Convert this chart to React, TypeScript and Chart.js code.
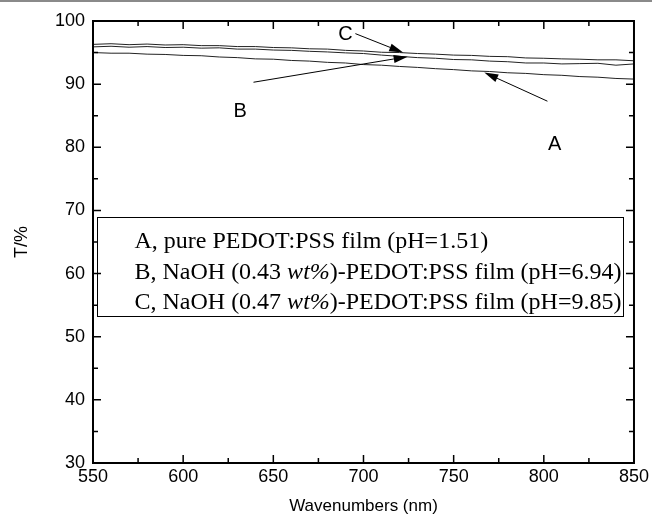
import React, { useEffect, useRef } from "react";
import { Chart, registerables } from "chart.js";

Chart.register(...registerables);

// ---- data ----
const wavelengths = [
  550, 560, 570, 580, 590, 600, 610, 620, 630, 640, 650, 660, 670, 680, 690, 700,
  710, 720, 730, 740, 750, 760, 770, 780, 790, 800, 810, 820, 830, 840, 850,
];
const seriesA = [
  95.0, 94.9, 94.9, 94.75, 94.7, 94.55, 94.5, 94.3, 94.2, 94.0, 93.95, 93.75, 93.65, 93.45, 93.35, 93.1,
  93.0, 92.8, 92.65, 92.45, 92.3, 92.1, 92.0, 91.8, 91.7, 91.5, 91.4, 91.2, 91.1, 90.9, 90.8,
];
const seriesB = [
  95.9, 96.0, 95.85, 95.95, 95.8, 95.85, 95.7, 95.75, 95.55, 95.55, 95.4, 95.35, 95.2, 95.1, 94.95, 94.85,
  94.6, 94.4, 94.2, 94.1, 93.9, 93.85, 93.65, 93.55, 93.35, 93.35, 93.2, 93.25, 93.3, 93.0, 93.2,
];
const seriesC = [
  96.3, 96.4, 96.25, 96.35, 96.2, 96.25, 96.1, 96.1, 95.95, 95.95, 95.8, 95.75, 95.6, 95.55, 95.35, 95.25,
  95.05, 95.0, 94.85, 94.75, 94.6, 94.55, 94.4, 94.35, 94.15, 94.1, 94.0, 93.95, 93.85, 93.85, 93.7,
];
const xTickValues = [550, 600, 650, 700, 750, 800, 850];
const yTickValues = [30, 40, 50, 60, 70, 80, 90, 100];
const xTitle = "Wavenumbers (nm)";
const yTitle = "T/%";
const legendLines: [string, boolean][][] = [
  [["A, pure PEDOT:PSS film (pH=1.51)", false]],
  [["B, NaOH (0.43 ", false], ["wt%", true], [")-PEDOT:PSS film (pH=6.94)", false]],
  [["C, NaOH (0.47 ", false], ["wt%", true], [")-PEDOT:PSS film (pH=9.85)", false]],
];
// curve labels with arrows (data coordinates)
const curveLabels = ["A", "B", "C"];
const labelAt = [
  [806, 80.4],
  [631.6, 85.7],
  [690, 97.9],
];
const arrowFrom = [
  [802, 87.3],
  [639, 90.3],
  [695.5, 98.0],
];
const arrowTo = [
  [767, 91.85],
  [724.5, 94.35],
  [722, 95.0],
];

const SANS = "'Liberation Sans', Arial, Helvetica, sans-serif";
const SERIF = "'Liberation Serif', 'Times New Roman', serif";

function drawArrow(ctx: CanvasRenderingContext2D, x1: number, y1: number, x2: number, y2: number) {
  const ang = Math.atan2(y2 - y1, x2 - x1);
  const headLen = 14;
  const headW = 4;
  const bx = x2 - headLen * Math.cos(ang);
  const by = y2 - headLen * Math.sin(ang);
  ctx.beginPath();
  ctx.moveTo(x1, y1);
  ctx.lineTo(bx, by);
  ctx.lineWidth = 1;
  ctx.strokeStyle = "#000";
  ctx.stroke();
  ctx.beginPath();
  ctx.moveTo(x2, y2);
  ctx.lineTo(bx + headW * Math.sin(ang), by - headW * Math.cos(ang));
  ctx.lineTo(bx - headW * Math.sin(ang), by + headW * Math.cos(ang));
  ctx.closePath();
  ctx.fillStyle = "#000";
  ctx.fill();
}

const decorPlugin = {
  id: "decor",
  afterDraw(chart: any) {
    const ctx: CanvasRenderingContext2D = chart.ctx;
    const { left, right, top, bottom } = chart.chartArea;
    const xs = chart.scales.x;
    const ys = chart.scales.y;
    ctx.save();

    // frame
    ctx.strokeStyle = "#000";
    ctx.lineWidth = 2;
    ctx.strokeRect(left, top, right - left, bottom - top);

    // inward ticks on all sides
    ctx.lineWidth = 1.5;
    ctx.beginPath();
    for (let v = 550; v <= 850; v += 25) {
      const px = xs.getPixelForValue(v);
      const len = v % 50 === 0 ? 8 : 5;
      ctx.moveTo(px, bottom);
      ctx.lineTo(px, bottom - len);
      ctx.moveTo(px, top);
      ctx.lineTo(px, top + len);
    }
    for (let v = 30; v <= 100; v += 5) {
      const py = ys.getPixelForValue(v);
      const len = v % 10 === 0 ? 8 : 5;
      ctx.moveTo(left, py);
      ctx.lineTo(left + len, py);
      ctx.moveTo(right, py);
      ctx.lineTo(right - len, py);
    }
    ctx.stroke();

    // curve labels and arrows
    ctx.fillStyle = "#000";
    ctx.font = `20px ${SANS}`;
    ctx.textAlign = "center";
    ctx.textBaseline = "middle";
    curveLabels.forEach((lab, i) => {
      ctx.fillText(lab, xs.getPixelForValue(labelAt[i][0]), ys.getPixelForValue(labelAt[i][1]));
      drawArrow(
        ctx,
        xs.getPixelForValue(arrowFrom[i][0]),
        ys.getPixelForValue(arrowFrom[i][1]),
        xs.getPixelForValue(arrowTo[i][0]),
        ys.getPixelForValue(arrowTo[i][1])
      );
    });

    // legend box
    const bx1 = xs.getPixelForValue(552.2);
    const bx2 = xs.getPixelForValue(844);
    const by1 = ys.getPixelForValue(69.0);
    const by2 = ys.getPixelForValue(53.4);
    ctx.lineWidth = 1;
    ctx.strokeRect(Math.round(bx1) + 0.5, Math.round(by1) + 0.5, Math.round(bx2 - bx1), Math.round(by2 - by1));
    const lineYs = [65.0, 60.2, 55.4];
    ctx.textAlign = "left";
    ctx.textBaseline = "middle";
    legendLines.forEach((segs, i) => {
      let x = xs.getPixelForValue(573);
      const y = ys.getPixelForValue(lineYs[i]);
      segs.forEach(([t, it]) => {
        ctx.font = `${it ? "italic " : ""}24px ${SERIF}`;
        ctx.fillText(t, x, y);
        x += ctx.measureText(t).width;
      });
    });

    // axis titles
    ctx.font = `17px ${SANS}`;
    ctx.textAlign = "center";
    ctx.textBaseline = "middle";
    ctx.fillText(xTitle, (left + right) / 2, 506);
    ctx.font = `18px ${SANS}`;
    ctx.translate(22, (top + bottom) / 2);
    ctx.rotate(-Math.PI / 2);
    ctx.fillText(yTitle, 0, 0);
    ctx.restore();
  },
};

export default function App() {
  const ref = useRef<HTMLCanvasElement>(null);
  useEffect(() => {
    const mk = (vals: number[]) => wavelengths.map((w, i) => ({ x: w, y: vals[i] }));
    const ds = (label: string, vals: number[]) => ({
      label,
      data: mk(vals),
      borderColor: "#222",
      borderWidth: 1,
      pointRadius: 0,
      tension: 0,
      fill: false,
    });
    const chart = new Chart(ref.current!, {
      type: "line",
      data: { datasets: [ds("A", seriesA), ds("B", seriesB), ds("C", seriesC)] },
      options: {
        responsive: false,
        animation: false,
        layout: { padding: { left: 0, top: 21, right: 15, bottom: 0 } },
        plugins: { legend: { display: false }, tooltip: { enabled: false }, title: { display: false } },
        scales: {
          x: {
            type: "linear",
            min: 550,
            max: 850,
            afterBuildTicks: (s: any) => {
              s.ticks = xTickValues.map((v) => ({ value: v }));
            },
            afterFit: (s: any) => {
              s.height = 54;
            },
            ticks: { font: { family: SANS, size: 18 }, color: "#000", padding: 3 },
            grid: { display: false, drawTicks: false },
            border: { display: false },
          },
          y: {
            min: 30,
            max: 100,
            afterBuildTicks: (s: any) => {
              s.ticks = yTickValues.map((v) => ({ value: v }));
            },
            afterFit: (s: any) => {
              s.width = 93;
            },
            ticks: { font: { family: SANS, size: 18 }, color: "#000", padding: 8 },
            grid: { display: false, drawTicks: false },
            border: { display: false },
          },
        },
      },
      plugins: [decorPlugin],
    } as any);
    return () => chart.destroy();
  }, []);
  return (
    <div style={{ position: "fixed", left: 0, top: 0, width: 652, height: 517, background: "#fff" }}>
      <div style={{ position: "absolute", left: 0, top: 0, width: 652, height: 2, background: "#8a8a8a" }} />
      <canvas ref={ref} width={652} height={517} style={{ display: "block" }} />
    </div>
  );
}
